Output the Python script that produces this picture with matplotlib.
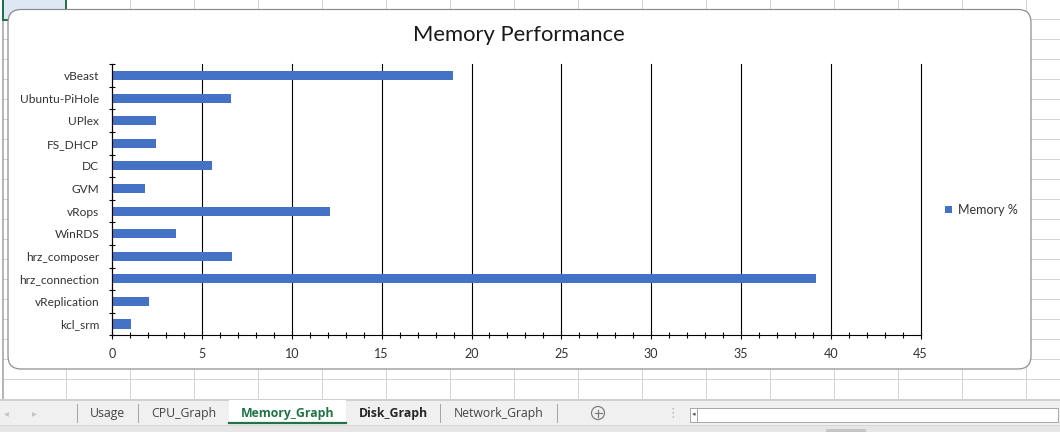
import matplotlib
matplotlib.use("Agg")
import matplotlib.pyplot as plt
from matplotlib.patches import FancyBboxPatch, Rectangle, Circle
from matplotlib.ticker import MultipleLocator, FixedLocator

# ---------------- data ----------------
categories = ["vBeast", "Ubuntu-PiHole", "UPlex", "FS_DHCP", "DC", "GVM", "vRops",
              "WinRDS", "hrz_composer", "hrz_connection", "vReplication", "kcl_srm"]
memory_pct = [18.97, 6.61, 2.43, 2.43, 5.55, 1.82, 12.12, 3.55, 6.66, 39.18, 2.04, 1.04]
series_name = "Memory %"
chart_title = "Memory Performance"
x_ticks = [0, 5, 10, 15, 20, 25, 30, 35, 40, 45]
sheet_tabs = ["Usage", "CPU_Graph", "Memory_Graph", "Disk_Graph", "Network_Graph"]

W, H = 1060, 432
BAR = "#4472C4"
FONT = ["Lato", "DejaVu Sans"]
plt.rcParams["font.family"] = FONT

fig = plt.figure(figsize=(W / 100, H / 100), dpi=100)

# ---------------- spreadsheet background (pixel coords) ----------------
bg = fig.add_axes([0, 0, 1, 1], zorder=0)
bg.set_xlim(0, W)
bg.set_ylim(H, 0)
bg.axis("off")
px = 0.72  # one pixel in points

grid_c = "#d4d4d4"
for x in range(66, W, 64):
    bg.plot([x, x], [0, 399], color=grid_c, lw=px)
y = 19.3
while y < 399:
    bg.plot([3, W], [y, y], color=grid_c, lw=px)
    y += 20
bg.plot([2.5, 2.5], [0, 399], color="#9e9e9e", lw=px * 1.5)
# active cell
bg.add_patch(Rectangle((3, 0), 63, 19.3, fc="#dde8f4", ec="none"))
bg.plot([66, 66], [0, 20], color="#217346", lw=2 * px)
bg.plot([3, 3], [0, 20], color="#217346", lw=2 * px)
bg.plot([3, 66], [19.5, 19.5], color="#217346", lw=2 * px)

# chart area
bg.add_patch(FancyBboxPatch((8, 9.5), 1023, 359.5,
                            boxstyle="round,pad=0,rounding_size=13",
                            fc="white", ec="#8a8a8a", lw=px * 1.2, zorder=3))

# tab bar
bg.add_patch(Rectangle((0, 399), W, 26, fc="#f0f0f0", ec="none", zorder=3))
bg.add_patch(Rectangle((0, 425), W, 7, fc="#e6e6e6", ec="none", zorder=3))
bg.plot([0, W], [399.5, 399.5], color="#c6c6c6", lw=px * 1.5, zorder=4)
bg.plot([0, W], [425, 425], color="#d6d6d6", lw=px, zorder=4)
bg.add_patch(Rectangle((229, 400), 117, 23, fc="white", ec="none", zorder=4))
bg.plot([229, 346], [423, 423], color="#217346", lw=2.2 * px, zorder=5)
for sx in (77, 138, 440, 557):
    bg.plot([sx, sx], [404, 422], color="#a6a6a6", lw=px, zorder=5)
tab_x = [107.5, 183.5, 287.5, 393, 498.5]
for name, tx in zip(sheet_tabs, tab_x):
    if name == "Memory_Graph":
        col, fw = "#217346", "bold"
    elif name == "Disk_Graph":
        col, fw = "#262626", "bold"
    else:
        col, fw = "#444444", "normal"
    bg.text(tx, 413.5, name, ha="center", va="center", fontsize=8.8,
            color=col, fontweight=fw, family=["Open Sans", "DejaVu Sans"], zorder=6)
bg.text(6, 413.5, "\u25c2", ha="center", va="center", fontsize=7, color="#c4c4c4",
        family="DejaVu Sans", zorder=6)
bg.text(34, 413.5, "\u25b8", ha="center", va="center", fontsize=7, color="#c4c4c4",
        family="DejaVu Sans", zorder=6)
bg.add_patch(Circle((598, 413), 6.5, fc="none", ec="#7a7a7a", lw=px * 1.2, zorder=6))
bg.plot([594.5, 601.5], [413, 413], color="#7a7a7a", lw=px * 1.2, zorder=6)
bg.plot([598, 598], [409.5, 416.5], color="#7a7a7a", lw=px * 1.2, zorder=6)
bg.text(673, 413.5, "\u22ee", ha="center", va="center", fontsize=9, color="#b0b0b0",
        family="DejaVu Sans", zorder=6)
bg.add_patch(Rectangle((690, 408), 368, 13.7, fc="white", ec="#a8a8a8", lw=px, zorder=6))
bg.plot([696.5, 696.5], [408, 421.7], color="#a8a8a8", lw=px, zorder=7)
bg.text(693.3, 414.5, "\u25c2", ha="center", va="center", fontsize=5, color="#555555",
        family="DejaVu Sans", zorder=7)
bg.add_patch(Rectangle((826, 428.5), 40, 3.5, fc="#c6c6c6", ec="none", zorder=6))

# ---------------- chart ----------------
L, R, T, B = 112.3, 920.5, 64.3, 335.3
ax = fig.add_axes([L / W, 1 - B / H, (R - L) / W, (B - T) / H], zorder=2)
ax.set_facecolor("none")

ypos = list(range(len(categories)))
ax.barh(ypos, memory_pct, height=0.4, color=BAR, zorder=3, label=series_name)

ax.set_xlim(0, 45)
ax.set_ylim(len(categories) - 0.5, -0.5)
ax.xaxis.set_major_locator(FixedLocator(x_ticks))
ax.xaxis.set_minor_locator(MultipleLocator(1))
ax.set_xticklabels([str(v) for v in x_ticks])
ax.set_yticks(ypos)
ax.set_yticklabels(categories)
ax.yaxis.set_minor_locator(FixedLocator([i - 0.5 for i in range(len(categories) + 1)]))

ax.xaxis.grid(True, which="major", color="black", lw=0.8, zorder=1)
for gl in ax.get_xgridlines():
    gl.set_clip_on(False)
for s in ("top", "right"):
    ax.spines[s].set_visible(False)
for s in ("left", "bottom"):
    ax.spines[s].set_color("black")
    ax.spines[s].set_linewidth(0.8)
    ax.spines[s].set_zorder(4)

ax.tick_params(axis="y", which="major", length=0, pad=9.5, labelsize=8.6, labelcolor="#333333")
ax.tick_params(axis="y", which="minor", direction="inout", length=5, width=0.8, color="black")
ax.tick_params(axis="x", which="major", direction="inout", length=6, width=0.8,
               color="black", pad=6, labelsize=9, labelcolor="#333333")
ax.tick_params(axis="x", which="minor", direction="inout", length=5, width=0.8, color="black")

fig.text(519 / W, 1 - 35 / H, chart_title, ha="center", va="center",
         fontsize=15.8, color="#1a1a1a")

leg = ax.legend(loc="center left", bbox_to_anchor=(945 / W, 1 - 210 / H),
                bbox_transform=fig.transFigure, frameon=False, fontsize=9,
                handlelength=0.55, handleheight=0.55, handletextpad=0.45, borderpad=0,
                borderaxespad=0)
for t in leg.get_texts():
    t.set_color("#333333")

fig.savefig("out.png", dpi=100)
